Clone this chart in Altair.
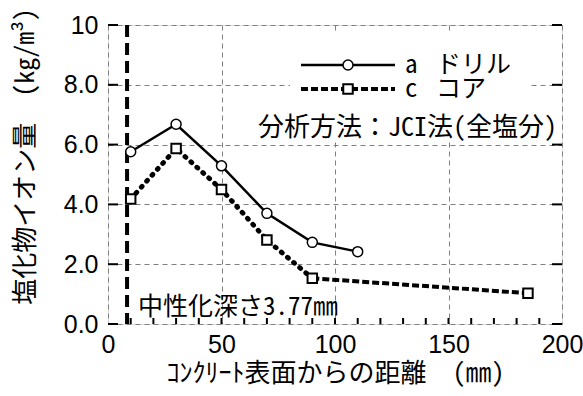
import altair as alt
import pandas as pd

# Chloride content profiles versus depth from the concrete surface
depth_a = [10, 30, 50, 70, 90, 110]
chloride_a = [5.76, 6.68, 5.29, 3.70, 2.73, 2.42]   # a: drilled powder

depth_c = [10, 30, 50, 70, 90, 185]
chloride_c = [4.18, 5.87, 4.50, 2.81, 1.53, 1.03]   # c: core sample

carbonation_depth = 8.4
carbonation_label = "中性化深さ3.77㎜"
method_label = "分析方法：JCI法(全塩分)"
legend_keys = ["a", "c"]
legend_names = ["ドリル", "コア"]

x_ticks = [10, 20, 30, 40, 50, 60, 70, 80, 90, 100,
           110, 120, 130, 140, 150, 160, 170, 180, 190]
y_ticks = [0, 2, 4, 6, 8, 10]

W, H = 454, 299
JP = "Noto Sans Mono CJK JP, Noto Sans CJK JP"
NUM = "Liberation Sans"

df_a = pd.DataFrame({"x": depth_a, "y": chloride_a})
df_c = pd.DataFrame({"x": depth_c, "y": chloride_c})
df_c_near = df_c[df_c["x"] <= 90]
df_c_far = df_c[df_c["x"] >= 90]

xs = alt.Scale(domain=[0, 200], nice=False, zero=False)
ys = alt.Scale(domain=[0, 10], nice=False)

x_axis = alt.Axis(values=[0, 50, 100, 150, 200], format="d",
                  title="ｺﾝｸﾘｰﾄ表面からの距離　(㎜)",
                  labelFont=NUM, labelFontSize=25, labelColor="black",
                  labelPadding=8, labelFlush=False,
                  titleFont=JP, titleFontSize=26,
                  titleFontWeight="normal", titleColor="black",
                  titlePadding=3, domain=False, ticks=False,
                  grid=True, gridColor="#808080", gridDash=[5, 4],
                  gridWidth=1)
y_axis = alt.Axis(values=y_ticks,
                  labelExpr="datum.value == 10 ? '10' : format(datum.value, '.1f')",
                  title="塩化物イオン量　(kg/m³)",
                  labelFont=NUM, labelFontSize=25, labelColor="black",
                  labelPadding=10, labelFlush=False,
                  titleFont=JP, titleFontSize=26,
                  titleFontWeight="normal", titleColor="black",
                  titleX=-83, titleY=131, titleAlign="center",
                  titleBaseline="middle",
                  domain=False, ticks=False,
                  grid=True, gridColor="#808080", gridDash=[5, 4],
                  gridWidth=1)

base = alt.Chart(df_a).mark_line(color="black", strokeWidth=2.5).encode(
    x=alt.X("x:Q", scale=xs, axis=x_axis),
    y=alt.Y("y:Q", scale=ys, axis=y_axis),
)

# white panel behind the legend and method note
panel = alt.Chart(pd.DataFrame({"k": [0]})).mark_rect(color="white").encode(
    x=alt.value(182), x2=alt.value(420), y=alt.value(7), y2=alt.value(117)
)

# inward tick marks
left_ticks = alt.Chart(pd.DataFrame({"v": y_ticks})).mark_rule(
    color="black", strokeWidth=2).encode(
    y=alt.Y("v:Q", scale=ys), x=alt.value(0), x2=alt.value(10))
right_ticks = alt.Chart(pd.DataFrame({"v": y_ticks})).mark_rule(
    color="black", strokeWidth=2).encode(
    y=alt.Y("v:Q", scale=ys), x=alt.value(W - 10), x2=alt.value(W))
bottom_ticks = alt.Chart(pd.DataFrame({"v": x_ticks})).mark_rule(
    color="black", strokeWidth=2).encode(
    x=alt.X("v:Q", scale=xs), y=alt.value(H - 6), y2=alt.value(H))

# carbonation front
front = alt.Chart(pd.DataFrame({"v": [carbonation_depth]})).mark_rule(
    color="black", strokeWidth=4, strokeDash=[12, 6]).encode(
    x=alt.X("v:Q", scale=xs), y=alt.value(0), y2=alt.value(H))
front_text = alt.Chart(pd.DataFrame({"t": [carbonation_label]})).mark_text(
    font=JP, fontSize=25, align="left", baseline="middle", color="black").encode(
    x=alt.value(30), y=alt.value(282), text="t:N")

line_c_near = alt.Chart(df_c_near).mark_line(
    color="black", strokeWidth=5, strokeDash=[1, 7], strokeCap="round").encode(
    x=alt.X("x:Q", scale=xs), y=alt.Y("y:Q", scale=ys))
line_c_far = alt.Chart(df_c_far).mark_line(
    color="black", strokeWidth=4, strokeDash=[7, 3]).encode(
    x=alt.X("x:Q", scale=xs), y=alt.Y("y:Q", scale=ys))
pts_c = alt.Chart(df_c).mark_point(
    shape="square", size=90, filled=True, fill="white", stroke="black",
    strokeWidth=2, opacity=1).encode(
    x=alt.X("x:Q", scale=xs), y=alt.Y("y:Q", scale=ys))
pts_a = alt.Chart(df_a).mark_point(
    shape="circle", size=100, filled=True, fill="white", stroke="black",
    strokeWidth=1.5, opacity=1).encode(
    x=alt.X("x:Q", scale=xs), y=alt.Y("y:Q", scale=ys))

# hand-built legend
leg_df = pd.DataFrame({"k": [0]})
leg_a_line = alt.Chart(leg_df).mark_rule(color="black", strokeWidth=2.5).encode(
    x=alt.value(193), x2=alt.value(287), y=alt.value(40))
leg_a_pt = alt.Chart(leg_df).mark_point(
    shape="circle", size=100, filled=True, fill="white", stroke="black",
    strokeWidth=1.5, opacity=1).encode(x=alt.value(240), y=alt.value(40))
leg_c_line = alt.Chart(leg_df).mark_rule(
    color="black", strokeWidth=4, strokeDash=[7, 3]).encode(
    x=alt.value(193), x2=alt.value(287), y=alt.value(64))
leg_c_pt = alt.Chart(leg_df).mark_point(
    shape="square", size=90, filled=True, fill="white", stroke="black",
    strokeWidth=2, opacity=1).encode(x=alt.value(240), y=alt.value(64))
leg_df_text = pd.DataFrame({"k": legend_keys, "n": legend_names, "yy": [40, 64]})
leg_key_text = alt.Chart(leg_df_text).mark_text(
    font=JP, fontSize=25, align="left", baseline="middle", color="black").encode(
    x=alt.value(297), y=alt.Y("yy:Q", scale=None), text="k:N")
leg_name_text = alt.Chart(leg_df_text).mark_text(
    font=JP, fontSize=25, align="left", baseline="middle", color="black").encode(
    x=alt.value(328), y=alt.Y("yy:Q", scale=None), text="n:N")
method_text = alt.Chart(pd.DataFrame({"t": [method_label]})).mark_text(
    font=JP, fontSize=26, align="right", baseline="middle", color="black").encode(
    x=alt.value(449), y=alt.value(103), text="t:N")

chart = alt.layer(
    base.mark_line(opacity=0), panel,
    left_ticks, right_ticks, bottom_ticks,
    front, front_text,
    line_c_near, line_c_far, base, pts_c, pts_a,
    leg_a_line, leg_a_pt, leg_c_line, leg_c_pt, leg_key_text, leg_name_text,
    method_text,
).properties(
    width=W, height=H,
    autosize=alt.AutoSizeParams(type="none"),
    padding={"left": 108, "top": 25, "right": 21, "bottom": 72},
).configure_view(
    stroke="black", strokeWidth=3.5
).configure(background="white")

chart.save("out.html", embed_options={"renderer": "svg", "actions": False})
